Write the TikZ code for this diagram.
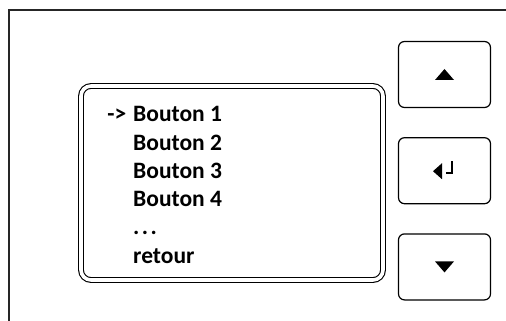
\documentclass[tikz,border=0pt]{standalone}
\usepackage{fontspec}
\setmainfont{Carlito}
\usetikzlibrary{positioning}

\tikzset{
        bouton/.style={draw, line width=1.2pt, rounded corners=6pt, inner sep=0pt,
                minimum width=92pt, minimum height=66pt},
        ligne/.style={anchor=base west, inner sep=0pt, font=\bfseries\fontsize{23.5}{23.5}\selectfont},
}

\begin{document}
\begin{tikzpicture}[x=1pt, y=-1pt]
        \useasboundingbox (0, 0) rectangle (506, 321);
        \draw[line width=1.2pt, black!85] (9, 321) -- (9, 10) -- (506, 10);
        \node[draw, double, double distance=3.6pt, line width=1.1pt, rounded corners=10pt,
                inner sep=0pt, minimum width=302pt, minimum height=194pt] (ecran) at (232, 183) {};

        \foreach \texte [count=\i from 0] in {Bouton 1, Bouton 2, Bouton 3, Bouton 4,
                        {.\hspace{2.5pt}.\hspace{2.5pt}.}, retour}
                \node[ligne] (l\i) at (133, 121.7 + 28.3*\i) {\texte};
        \node[ligne, anchor=base east] (curseur) at (126.5, 121.7) {->};

        \node[bouton] (haut) at (444.5, 74.5) {};
        \node[bouton, below=29pt of haut] (entree) {};
        \node[bouton, below=29pt of entree] (bas) {};

        \fill ([shift={(-9.5, 5.5)}]haut.center) -- ++(19, 0) -- ++(-9.5, -11) -- cycle;
        \fill ([shift={(-9.5, -5.5)}]bas.center) -- ++(19, 0) -- ++(-9.5, 11) -- cycle;
        \fill ([shift={(-11.5, 0.5)}]entree.center) -- ++(9, -8) -- ++(0, 16) -- cycle;
        \draw[line width=1.6pt] ([shift={(7.5, -9.5)}]entree.center) -- ++(0, 12) -- ++(-6, 0);
\end{tikzpicture}
\end{document}
